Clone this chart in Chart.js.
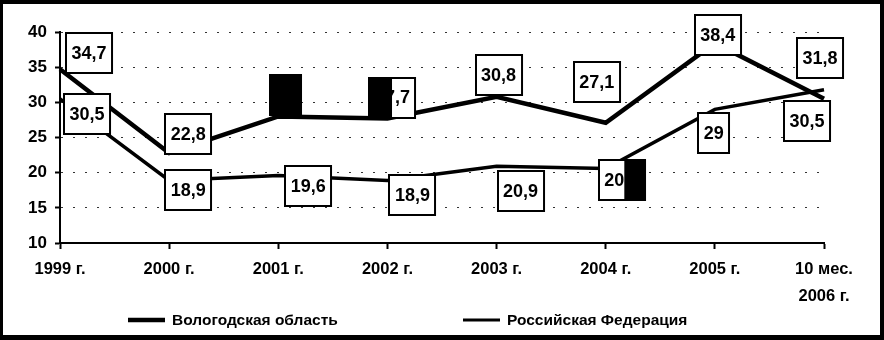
<!DOCTYPE html>
<html>
<head>
<meta charset="utf-8">
<script src="https://cdn.jsdelivr.net/npm/chart.js@4"></script>
<style>
  html, body { margin: 0; padding: 0; background: #fff; }
  #wrap { width: 884px; height: 340px; position: relative; }
</style>
</head>
<body>
<div id="wrap"><canvas id="chart"></canvas></div>
<script>
// ==== Data ====
const categories = ['1999 г.', '2000 г.', '2001 г.', '2002 г.', '2003 г.', '2004 г.', '2005 г.', ['10 мес.', '2006 г.']];
const vologda = [34.7, 22.8, 28.0, 27.7, 30.8, 27.1, 38.4, 30.5];
const russia = [30.5, 18.9, 19.6, 18.9, 20.9, 20.6, 29, 31.8];
const seriesNames = ['Вологодская область', 'Российская Федерация'];
const yTicks = [10, 15, 20, 25, 30, 35, 40];

// ==== Label box placement (offset from point, px) ====
const vologdaOffsets = [[29, -16], [19, -19], [7, -21], [5, -21], [2, -22], [-9, -41], [3, -8], [-17, 22]];
const russiaOffsets = [[27, 15], [19, 10], [30, 11], [25, 15], [24, 25], [16, 12], [-1, 24], [-4, -32]];
// scan artefacts: part of some boxes is blacked out (fraction, side)
const vologdaDark = [null, null, [1, 'left'], [0.5, 'left'], null, null, null, null];
const russiaDark = [null, null, null, null, null, [0.45, 'right'], null, null];

const FONT = '"Liberation Sans", Arial, sans-serif';

const valueBoxes = {
    id: 'valueBoxes',
    afterDatasetsDraw(chart) {
        const ctx = chart.ctx;
        const sets = [[vologda, vologdaOffsets, vologdaDark], [russia, russiaOffsets, russiaDark]];
        ctx.save();
        ctx.font = 'bold 18px ' + FONT;
        ctx.textAlign = 'center';
        ctx.textBaseline = 'middle';
        sets.forEach((s, di) => {
            const meta = chart.getDatasetMeta(di);
            s[0].forEach((v, i) => {
                const pt = meta.data[i];
                const txt = String(v).replace('.', ',');
                const w = ctx.measureText(txt).width + 11;
                const h = 40;
                const cx = pt.x + s[1][i][0];
                const cy = pt.y + s[1][i][1];
                const x = Math.round(cx - w / 2), y = Math.round(cy - h / 2);
                ctx.fillStyle = '#fff';
                ctx.fillRect(x, y, w, h);
                ctx.fillStyle = '#000';
                ctx.fillText(txt, cx, cy + 1);
                const dark = s[2][i];
                if (dark) {
                    const dw = w * dark[0];
                    ctx.fillRect(dark[1] === 'left' ? x : x + w - dw, y, dw, h);
                }
                ctx.lineWidth = 2;
                ctx.strokeStyle = '#000';
                ctx.strokeRect(x, y, w, h);
            });
        });
        ctx.restore();
    }
};

const legendAndFrame = {
    id: 'legendAndFrame',
    afterDraw(chart) {
        const ctx = chart.ctx;
        ctx.save();
        // legend
        ctx.strokeStyle = '#000';
        ctx.fillStyle = '#000';
        ctx.font = 'bold 15.5px ' + FONT;
        ctx.textBaseline = 'middle';
        const items = [[128, 4.5], [463, 3]];
        items.forEach((it, i) => {
            ctx.lineWidth = it[1];
            ctx.beginPath();
            ctx.moveTo(it[0], 320);
            ctx.lineTo(it[0] + 37, 320);
            ctx.stroke();
            ctx.fillText(seriesNames[i], it[0] + 44, 321);
        });
        // outer frame
        ctx.fillRect(0, 0, 884, 4);
        ctx.fillRect(0, 0, 3, 340);
        ctx.fillRect(880, 0, 4, 340);
        ctx.fillRect(0, 335, 884, 5);
        ctx.restore();
    }
};

new Chart(document.getElementById('chart'), {
    type: 'line',
    data: {
        labels: categories,
        datasets: [{
            label: seriesNames[0],
            data: vologda,
            borderColor: '#000',
            borderWidth: 4.5,
            pointRadius: 0,
            tension: 0,
            fill: false,
            clip: false
        }, {
            label: seriesNames[1],
            data: russia,
            borderColor: '#000',
            borderWidth: 3.5,
            pointRadius: 0,
            tension: 0,
            fill: false,
            clip: false
        }]
    },
    options: {
        responsive: true,
        maintainAspectRatio: false,
        animation: false,
        devicePixelRatio: 1,
        layout: { padding: { left: 4, top: 32, right: 60, bottom: 0 } },
        plugins: {
            legend: { display: false },
            tooltip: { enabled: false }
        },
        scales: {
            x: {
                offset: false,
                grid: { drawOnChartArea: false, drawTicks: true, tickLength: 6, tickColor: '#000', tickWidth: 2 },
                border: { color: '#000', width: 2 },
                ticks: {
                    color: '#000',
                    font: { family: FONT, size: 16.5, weight: 'bold', lineHeight: 1.65 },
                    padding: 7,
                    maxRotation: 0,
                    autoSkip: false
                },
                afterFit(s) { s.height = 97; }
            },
            y: {
                min: 10,
                max: 40,
                afterBuildTicks(s) { s.ticks = yTicks.map(v => ({ value: v })); },
                ticks: {
                    color: '#000',
                    font: { family: FONT, size: 17, weight: 'bold' },
                    padding: 8
                },
                grid: {
                    color: c => (c.tick && c.tick.value === 10) ? 'rgba(0,0,0,0)' : '#333',
                    lineWidth: 1,
                    tickColor: '#000',
                    tickWidth: 2,
                    tickLength: 5,
                    tickBorderDash: []
                },
                border: { color: '#000', width: 2, dash: [2, 10] },
                afterFit(s) { s.width = 56; }
            }
        }
    },
    plugins: [valueBoxes, legendAndFrame]
});
</script>
</body>
</html>
